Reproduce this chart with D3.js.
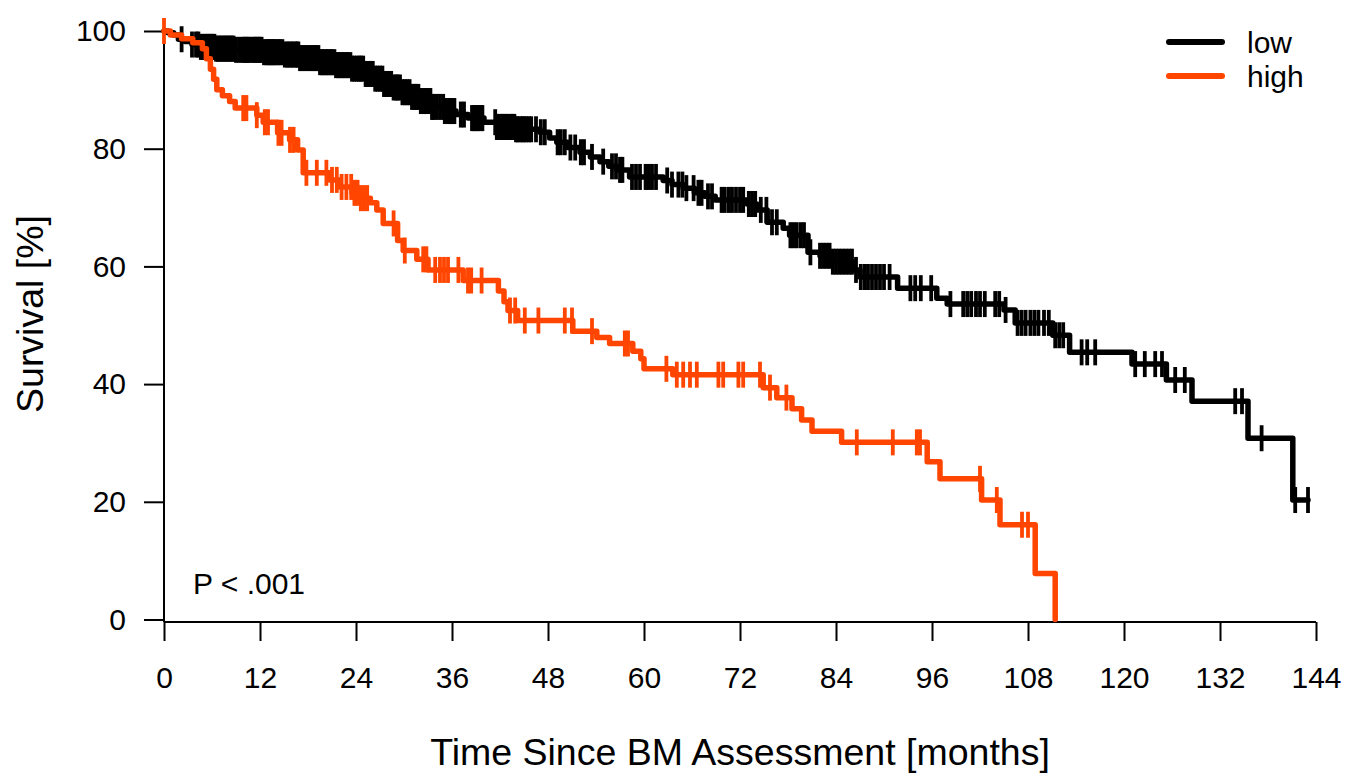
<!DOCTYPE html>
<html>
<head>
<meta charset="utf-8">
<script src="https://cdn.jsdelivr.net/npm/d3@7"></script>
<style>
  body { margin: 0; background: #fff; }
  svg text { font-family: "Liberation Sans", Arial, sans-serif; fill: #000; }
</style>
</head>
<body>
<svg id="chart" width="1349" height="777"></svg>
<script>
var xTicks = [0, 12, 24, 36, 48, 60, 72, 84, 96, 108, 120, 132, 144];
var yTicks = [0, 20, 40, 60, 80, 100];
var groupNames = ['low', 'high'];
var groupColors = ['#000000', '#ff4500'];

// low group: event times (months) and survival (%) after each event
var lowEventTimes = [0.5, 1.2, 1.8, 2.6, 3.5, 4.5, 6.5, 9, 12.5, 15, 17, 19.5, 21.5, 23.5, 25,
    26.2, 27.4, 28.5, 29.8, 30.8, 32, 33.5, 35, 36.5, 38, 40, 41.6, 44, 47, 48.2,
    49.1, 50.5, 52, 53.3, 54.5, 55.6, 56.6, 58.2, 62.4, 63.5, 64.9, 66.3, 67.6, 68.9, 72.9,
    74.1, 75.4, 77.4, 78.2, 80.5, 82, 83.5, 86.1, 87, 91.7, 96.6, 97.9, 105, 106.4, 111.1,
    113.2, 121, 125.3, 128.5, 135.5, 141.1];
var lowSurvival = [99.7, 99.3, 98.6, 98.2, 97.7, 97.3, 97.0, 96.8, 96.4, 96.0, 95.4, 94.7, 94.2, 93.6, 92.7,
    91.9, 91.0, 90.4, 89.6, 88.8, 88.1, 87.1, 86.4, 85.8, 85.2, 84.5, 83.7, 83.3, 82.8, 81.8,
    81.1, 80.2, 79.4, 78.6, 77.8, 77.0, 76.4, 75.2, 74.6, 73.9, 73.3, 72.5, 71.9, 71.3, 70.6,
    69.6, 67.5, 66.5, 65.3, 62.4, 61.8, 60.8, 59.4, 58.2, 56.3, 54.6, 53.6, 52.6, 50.4, 48.3,
    45.4, 43.4, 40.7, 37.1, 30.8, 20.3];
var lowCensorTimes = [2.2, 3.5, 4.0, 4.3, 4.6, 4.8, 5.1, 5.3, 5.5, 5.7, 5.9, 6.1, 6.3, 6.5, 6.7, 6.9,
    7.1, 7.3, 7.5, 7.7, 7.9, 8.1, 8.3, 8.5, 8.7, 9.0, 9.4, 9.8, 10.0, 10.2, 10.4, 10.6, 10.9, 11.2,
    11.4, 11.6, 11.8, 12.0, 12.2, 12.5, 12.8, 13.0, 13.2, 13.4, 13.6, 13.8, 14.0, 14.3, 14.5, 14.8,
    15.1, 15.4, 15.6, 15.9, 16.1, 16.4, 16.6, 16.8, 17.0, 17.3, 17.6, 17.9, 18.2, 18.5, 18.8, 19.0,
    19.3, 19.5, 19.8, 20.0, 20.3, 20.5, 20.8, 21.0, 21.3, 21.5, 21.8, 22.0, 22.3, 22.5, 22.8, 23.0,
    23.3, 23.5, 23.8, 24.1, 24.4, 24.6, 24.9, 25.2, 25.5, 25.8, 26.1, 26.4, 26.7, 27.0, 27.3, 27.5,
    27.8, 28.1, 28.4, 28.7, 29.0, 29.2, 29.5, 29.8, 30.1, 30.4, 30.7, 31.0, 31.3, 31.5, 31.8, 32.1,
    32.4, 32.7, 33.0, 33.3, 33.5, 33.7, 34.1, 34.5, 34.9, 35.1, 35.4, 35.7, 35.9, 36.0, 36.3, 37.1,
    37.5, 38.5, 38.7, 38.9, 39.1, 39.3, 39.6, 39.8, 41.4, 41.6, 41.8, 42.0, 42.2, 42.4, 42.6, 42.8,
    43.0, 43.2, 43.4, 43.6, 43.8, 44.0, 44.2, 44.5, 44.8, 45.0, 45.3, 45.6, 45.9, 46.5, 47.1, 47.6,
    49.2, 49.6, 50.1, 50.8, 51.4, 52.1, 52.5, 53.5, 54.9, 56.0, 56.5, 57.0, 57.3, 58.5, 59.0, 59.5,
    60.2, 60.6, 61.0, 61.5, 62.9, 63.5, 64.3, 64.8, 65.3, 66.2, 66.8, 67.2, 68.0, 68.5, 69.7, 70.1,
    70.6, 71.0, 71.5, 72.0, 72.4, 73.1, 73.5, 73.9, 74.6, 75.3, 76.0, 76.6, 78.3, 78.7, 79.1, 79.6,
    80.0, 80.8, 82.0, 82.4, 82.8, 83.2, 83.6, 84.0, 84.4, 84.8, 85.2, 85.6, 86.0, 86.5, 87.1, 87.6,
    88.0, 88.5, 89.0, 89.5, 90.0, 90.7, 93.3, 93.9, 94.6, 95.9, 98.3, 99.9, 100.4, 100.9, 101.5,
    102.0, 102.6, 103.9, 104.4, 105.2, 106.7, 107.2, 107.7, 108.3, 108.8, 109.3, 110.0, 110.6, 111.4,
    111.9, 112.4, 114.7, 115.4, 116.4, 121.4, 122.6, 123.9, 124.75, 126.4, 127.6, 133.9, 134.75,
    137.2, 141.4, 143];

// high group
var highEventTimes = [0.8, 2.2, 3.6, 4.8, 5.3, 5.8, 6.2, 6.6, 7.3, 8.2, 8.9, 11.6, 12.4, 14.2, 15.7,
    16.7, 17.4, 20.7, 22.0, 23.5, 24.5, 25.8, 26.6, 27.4, 29.2, 29.9, 31.6, 33.0, 37.4, 41.8,
    42.5, 43.0, 44.2, 51.1, 54.1, 55.7, 58.6, 59.6, 60.0, 63.6, 74.9, 76.6, 78.5, 79.7, 81.0,
    84.7, 95.4, 97.0, 102.2, 104.5, 108.9, 111.4];
var highSurvival = [99.3, 98.7, 98.0, 97.0, 95.3, 93.5, 91.8, 90.0, 89.0, 88.0, 86.9, 85.7, 84.5, 82.7, 81.5,
    79.8, 75.9, 74.7, 73.5, 72.5, 71.6, 70.8, 69.6, 67.3, 64.4, 62.7, 61.2, 59.4, 57.6, 55.8,
    54.0, 52.5, 50.8, 49.0, 47.9, 46.9, 45.6, 44.3, 42.6, 41.6, 39.4, 37.7, 35.8, 33.9, 32.0,
    30.1, 26.8, 23.9, 20.3, 16.1, 7.8, 0];
var highCensorTimes = [0, 9.9, 10.3, 11.6, 12.6, 13.0, 14.3, 14.7, 15.75, 16.2, 17.8, 19.1, 20.3, 21.0,
    21.6, 22.2, 22.8, 23.4, 23.8, 24.2, 24.6, 25.0, 25.4, 28.7, 30.1, 32.4, 32.8, 33.9, 34.5, 35.0,
    35.5, 36.8, 38.0, 38.4, 39.7, 43.25, 43.9, 45.1, 46.8, 50.1, 51.0, 53.5, 57.6, 58.0, 62.8, 64.1,
    64.9, 65.75, 66.6, 69.3, 69.9, 71.8, 72.4, 74.5, 75.75, 77.8, 86.6, 91.1, 94.1, 94.5, 102.0,
    104.1, 107.25, 108.0];

var svg = d3.select('#chart');
var x = d3.scaleLinear().domain([0, 144]).range([164, 1316]);
var y = d3.scaleLinear().domain([0, 100]).range([619.5, 31]);
var axisY = 622;

function survAt(times, surv, t) {
    var s = 100, i;
    for (i = 0; i < times.length; i++) {
        if (times[i] <= t) { s = surv[i]; }
    }
    return s;
}

function stepPoints(times, surv, censors) {
    var pts = [[0, 100]], i,
        end = Math.max(d3.max(times), d3.max(censors));
    for (i = 0; i < times.length; i++) { pts.push([times[i], surv[i]]); }
    if (end > times[times.length - 1]) { pts.push([end, surv[surv.length - 1]]); }
    return pts;
}

// axes
var gx = svg.append('g')
    .attr('transform', 'translate(0,' + axisY + ')')
    .call(d3.axisBottom(x).tickValues(xTicks).tickSize(19).tickSizeOuter(0).tickPadding(26));
var gy = svg.append('g')
    .attr('transform', 'translate(' + x(0) + ',0)')
    .call(d3.axisLeft(y).tickValues(yTicks).tickSize(20).tickSizeOuter(0).tickPadding(18));
[gx, gy].forEach(function (g) {
    g.select('.domain').remove();
    g.selectAll('.tick line').attr('stroke', '#000').attr('stroke-width', 2);
    g.selectAll('.tick text').style('font-size', '30px').attr('fill', '#000');
});
gx.selectAll('.tick text').attr('dy', '0.71em');
svg.append('line')
    .attr('x1', x(0)).attr('x2', x(144))
    .attr('y1', axisY).attr('y2', axisY)
    .attr('stroke', '#000').attr('stroke-width', 2);
svg.append('line')
    .attr('x1', x(0)).attr('x2', x(0))
    .attr('y1', y(100)).attr('y2', axisY)
    .attr('stroke', '#000').attr('stroke-width', 2);

// curves
var groups = [
    { times: lowEventTimes, surv: lowSurvival, censors: lowCensorTimes },
    { times: highEventTimes, surv: highSurvival, censors: highCensorTimes }
];
var line = d3.line()
    .x(function (d) { return x(d[0]); })
    .y(function (d) { return y(d[1]); })
    .curve(d3.curveStepAfter);

groups.forEach(function (g, k) {
    var layer = svg.append('g');
    layer.append('path')
        .attr('d', line(stepPoints(g.times, g.surv, g.censors)))
        .attr('fill', 'none')
        .attr('stroke', groupColors[k])
        .attr('stroke-width', 5.5)
        .attr('stroke-linejoin', 'round')
        .attr('stroke-linecap', 'round');
    layer.selectAll('line.censor')
        .data(g.censors)
        .enter().append('line')
        .attr('class', 'censor')
        .attr('x1', function (d) { return x(d); })
        .attr('x2', function (d) { return x(d); })
        .attr('y1', function (d) { return y(survAt(g.times, g.surv, d)) - 13; })
        .attr('y2', function (d) { return y(survAt(g.times, g.surv, d)) + 13; })
        .attr('stroke', groupColors[k])
        .attr('stroke-width', 3.8);
});

// labels
svg.append('text')
    .attr('x', 740).attr('y', 765)
    .attr('text-anchor', 'middle')
    .style('font-size', '37.5px')
    .text('Time Since BM Assessment [months]');
svg.append('text')
    .attr('transform', 'translate(43,314) rotate(-90)')
    .attr('text-anchor', 'middle')
    .style('font-size', '37.5px')
    .text('Survival [%]');
svg.append('text')
    .attr('x', 193).attr('y', 594)
    .style('font-size', '30px')
    .text('P < .001');

// legend
var legend = svg.append('g').selectAll('g')
    .data(groupNames)
    .enter().append('g')
    .attr('transform', function (d, i) { return 'translate(0,' + (42 + i * 34) + ')'; });
legend.append('line')
    .attr('x1', 1169).attr('x2', 1222)
    .attr('stroke', function (d, i) { return groupColors[i]; })
    .attr('stroke-width', 6)
    .attr('stroke-linecap', 'round');
legend.append('text')
    .attr('x', 1247).attr('y', 10.5)
    .style('font-size', '30px')
    .text(function (d) { return d; });
</script>
</body>
</html>
